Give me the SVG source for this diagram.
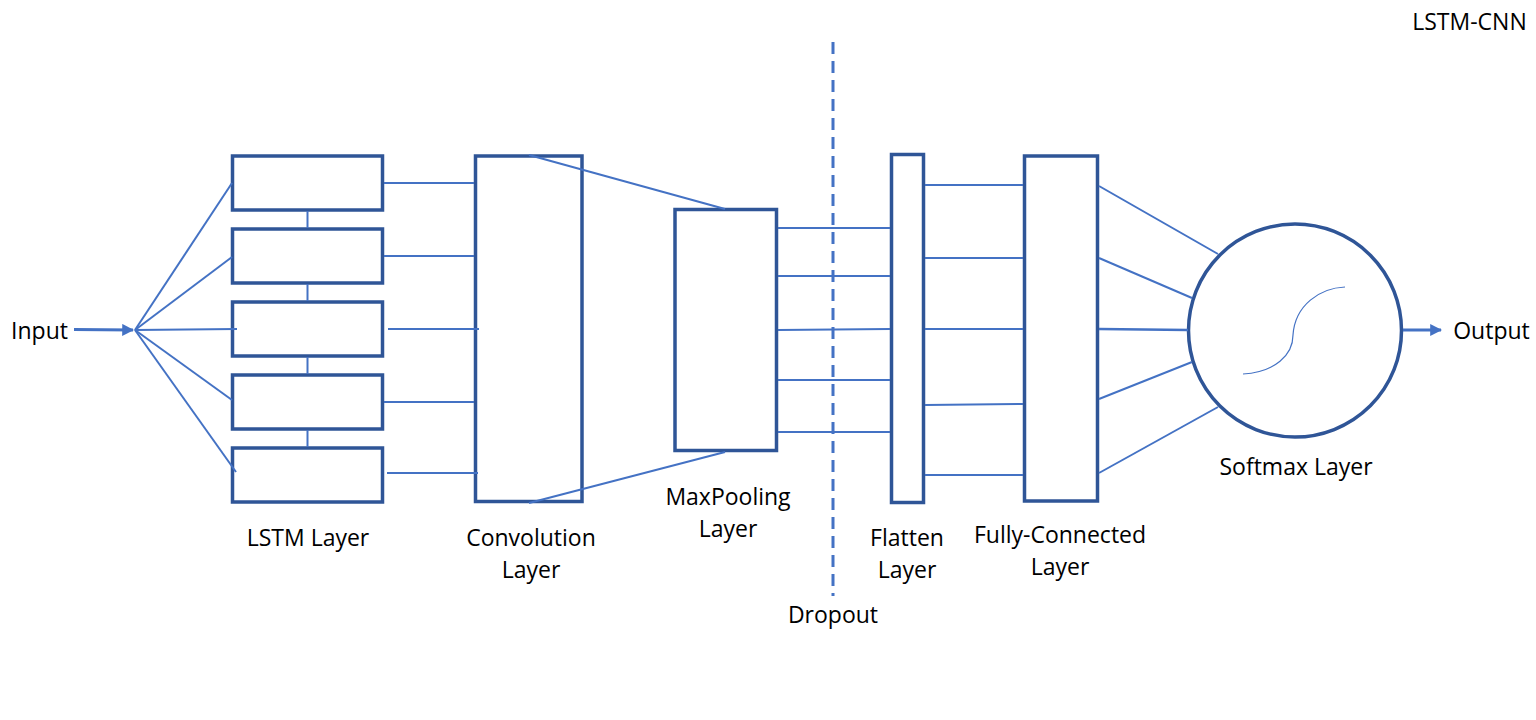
<svg xmlns="http://www.w3.org/2000/svg" width="1536" height="720" viewBox="0 0 1536 720">
<defs>
<style>
.box{fill:#fff;stroke:#2F5597;stroke-width:3.5}
.ln{stroke:#4472C4;stroke-width:2;fill:none}
.thick{stroke:#4472C4;stroke-width:3;fill:none}
.t{font-family:"Open Sans","Noto Sans","Liberation Sans",sans-serif;font-size:23px;fill:#000;text-anchor:middle}
</style>
<marker id="ah" viewBox="0 0 10 10" refX="9" refY="5" markerWidth="4" markerHeight="4" orient="auto" markerUnits="strokeWidth">
<path d="M0,0 L10,5 L0,10 z" fill="#4472C4"/>
</marker>
</defs>
<rect width="1536" height="720" fill="#fff"/>
<g id="lstm">
<rect class="box" x="232.5" y="156" width="150" height="54"/>
<rect class="box" x="232.5" y="229" width="150" height="54"/>
<rect class="box" x="232.5" y="302" width="150" height="54"/>
<rect class="box" x="232.5" y="375" width="150" height="54"/>
<rect class="box" x="232.5" y="448" width="150" height="54"/>
<text class="t" x="308" y="546">LSTM Layer</text>
</g>
<g id="conv">
<rect class="box" x="475.5" y="156" width="106.5" height="345.5"/>
<text class="t" x="531" y="546">Convolution</text>
<text class="t" x="531" y="578">Layer</text>
</g>
<g id="maxpool">
<rect class="box" x="675" y="209.5" width="101.5" height="241"/>
<text class="t" x="728" y="505">MaxPooling</text>
<text class="t" x="728" y="537">Layer</text>
</g>
<g id="flatten">
<rect class="box" x="891.5" y="154.5" width="32" height="348"/>
<text class="t" x="907" y="546">Flatten</text>
<text class="t" x="907" y="578">Layer</text>
</g>
<g id="fc">
<rect class="box" x="1024.5" y="156" width="73" height="345"/>
<text class="t" x="1060" y="543">Fully-Connected</text>
<text class="t" x="1060" y="575">Layer</text>
</g>
<g id="softmax">
<circle class="box" cx="1295" cy="330.5" r="106.5"/>
<path d="M1243,374 C1275,372 1293,355 1293,335 C1295,305 1320,288 1345,287" stroke="#4472C4" stroke-width="1.2" fill="none"/>
<text class="t" x="1296" y="475">Softmax Layer</text>
</g>
<g id="io">
<text class="t" x="39.5" y="339">Input</text>
<text class="t" x="1491.5" y="339">Output</text>
<text class="t" x="833" y="623">Dropout</text>
<text class="t" x="1469.5" y="30">LSTM-CNN</text>
</g>
<g id="connectors">
<line class="thick" x1="74" y1="329.5" x2="133" y2="330" marker-end="url(#ah)"/>
<line class="ln" x1="135" y1="330" x2="232" y2="183"/>
<line class="ln" x1="135" y1="330" x2="232" y2="257"/>
<line class="ln" x1="135" y1="330" x2="237" y2="329"/>
<line class="ln" x1="135" y1="330" x2="232" y2="400"/>
<line class="ln" x1="135" y1="330" x2="236" y2="472"/>
<line class="ln" x1="307.5" y1="211" x2="307.5" y2="228"/>
<line class="ln" x1="307.5" y1="284" x2="307.5" y2="301"/>
<line class="ln" x1="307.5" y1="357" x2="307.5" y2="374"/>
<line class="ln" x1="307.5" y1="430" x2="307.5" y2="447"/>
<line class="ln" x1="384" y1="183" x2="474" y2="183"/>
<line class="ln" x1="384" y1="256" x2="474" y2="256"/>
<line class="ln" x1="388" y1="329" x2="479" y2="329"/>
<line class="ln" x1="384" y1="402" x2="474" y2="402"/>
<line class="ln" x1="387" y1="473" x2="478" y2="473"/>
<line class="ln" x1="529" y1="155" x2="725" y2="209"/>
<line class="ln" x1="529" y1="503" x2="725" y2="452"/>
<line class="ln" x1="778" y1="228" x2="890" y2="228"/>
<line class="ln" x1="778" y1="276" x2="890" y2="276"/>
<line class="ln" x1="778" y1="330" x2="890" y2="329"/>
<line class="ln" x1="778" y1="380" x2="890" y2="380"/>
<line class="ln" x1="778" y1="432" x2="890" y2="432"/>
<line class="ln" x1="925" y1="185" x2="1023" y2="185"/>
<line class="ln" x1="925" y1="258" x2="1023" y2="258"/>
<line class="ln" x1="925" y1="329" x2="1023" y2="329"/>
<line class="ln" x1="925" y1="405" x2="1023" y2="404"/>
<line class="ln" x1="925" y1="475" x2="1023" y2="475"/>
<line class="ln" x1="1099" y1="186" x2="1218" y2="254"/>
<line class="ln" x1="1099" y1="258" x2="1192" y2="298"/>
<line class="thick" x1="1099" y1="329" x2="1188" y2="330" style="stroke-width:2.5"/>
<line class="ln" x1="1099" y1="399" x2="1192" y2="362"/>
<line class="ln" x1="1099" y1="473" x2="1218" y2="407"/>
<line class="thick" x1="1403" y1="330" x2="1441" y2="330" marker-end="url(#ah)"/>
<line x1="833" y1="42" x2="833" y2="596" stroke="#4472C4" stroke-width="3" stroke-dasharray="12,7"/>
</g>
</svg>
